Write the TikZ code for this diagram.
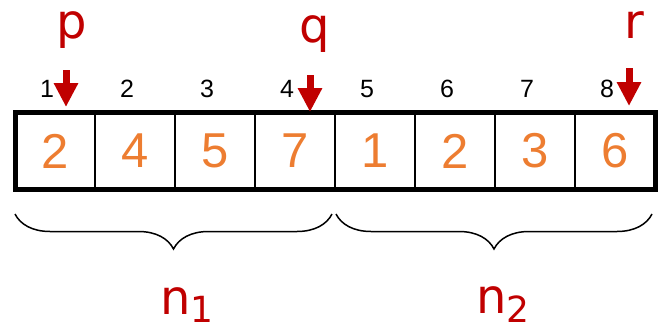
\documentclass[tikz,border=0pt]{standalone}
\usepackage{fontspec}
\setmainfont{Liberation Sans}
\newfontfamily\handfont{DejaVu Sans}
\usetikzlibrary{positioning, calc, arrows.meta, decorations.pathreplacing}
\definecolor{cellorange}{HTML}{ED7D31}
\definecolor{markred}{HTML}{C00000}

\begin{document}
\begin{tikzpicture}[x=1pt,y=-1pt,
  cell/.style={draw, line width=1.5pt, minimum width=80pt, minimum height=77pt,
    inner sep=0pt, outer sep=0pt, text=cellorange, font=\fontsize{49}{49}\selectfont},
  idx/.style={font=\fontsize{25}{25}\selectfont, inner sep=0pt, anchor=base},
  ptr/.style={text=markred, font=\handfont\fontsize{48}{48}\selectfont, inner sep=0pt,
    anchor=base, text height=27pt},
  ptrarrow/.style={color=markred, line width=7pt, -{Triangle[width=23pt,length=24pt]}},
  grp/.style={decorate, decoration={brace, mirror, amplitude=35pt}, line width=1.5pt}]
  \useasboundingbox (0,0) rectangle (666,332);
  % cells
  \node[cell] (c1) at (55,151) {2};
  \node[cell, right=0pt of c1] (c2) {4};
  \node[cell, right=0pt of c2] (c3) {5};
  \node[cell, right=0pt of c3] (c4) {7};
  \node[cell, right=0pt of c4] (c5) {1};
  \node[cell, right=0pt of c5] (c6) {2};
  \node[cell, right=0pt of c6] (c7) {3};
  \node[cell, right=0pt of c7] (c8) {6};
  \draw[line width=5pt] (c1.north west) rectangle (c8.south east);
  % indices
  \node[idx] (i1) at ($(c1.north)+(-8,-15)$) {1};
  \node[idx] (i2) at ($(c2.north)+(-8,-15)$) {2};
  \node[idx] (i3) at ($(c3.north)+(-8,-15)$) {3};
  \node[idx] (i4) at ($(c4.north)+(-8,-15)$) {4};
  \node[idx] (i5) at ($(c5.north)+(-8,-15)$) {5};
  \node[idx] (i6) at ($(c6.north)+(-8,-15)$) {6};
  \node[idx] (i7) at ($(c7.north)+(-8,-15)$) {7};
  \node[idx] (i8) at ($(c8.north)+(-8,-15)$) {8};
  % pointers
  \node[ptr] (p) at (72,38) {p};
  \node[ptr] (q) at (315,42) {q};
  \node[ptr] (r) at (634,38) {r};
  \coordinate (ptop) at (66,70);
  \coordinate (pend) at (66,107);
  \coordinate (qtop) at (310,75);
  \coordinate (qend) at (310,112);
  \coordinate (rtop) at (629,68);
  \coordinate (rend) at (629,106);
  \draw[ptrarrow] (ptop) -- (pend);
  \draw[ptrarrow] (qtop) -- (qend);
  \draw[ptrarrow] (rtop) -- (rend);
  % halves
  \coordinate (b1l) at (15,214);
  \coordinate (b1r) at (332,214);
  \coordinate (b2l) at (336,214);
  \coordinate (b2r) at (652,214);
  \draw[grp] (b1l) -- (b1r);
  \draw[grp] (b2l) -- (b2r);
  \node[ptr, anchor=base west] (n1) at (160,314) {n\raisebox{-8pt}{\fontsize{36}{36}\selectfont 1}};
  \node[ptr, anchor=base west] (n2) at (476,313) {n\raisebox{-9pt}{\fontsize{36}{36}\selectfont 2}};
\end{tikzpicture}
\end{document}
